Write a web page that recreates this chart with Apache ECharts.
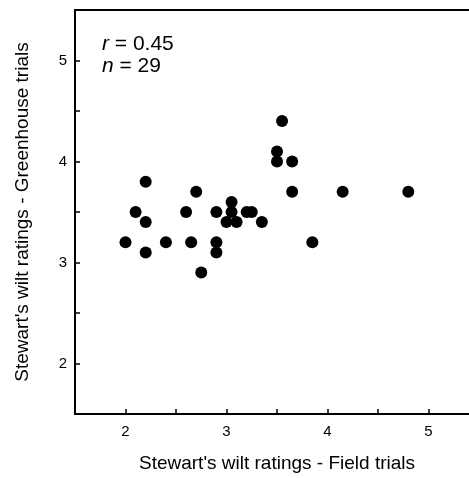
<!doctype html>
<html>
	<head>
		<meta charset="utf-8">
		<title></title>
		<script src="https://cdn.jsdelivr.net/npm/echarts@6/dist/echarts.min.js"></script>
		<style>
			html,body {
				margin: 0;
				width: 100%;
				height: 100%;
				background-color: #fff;
			}
			#container {
				width: 469px;
				height: 478px;
			}
		</style>
	</head>
	<body>
		<div id="container"></div>
		<script type="text/javascript">
			// field trial ratings (x) vs greenhouse ratings (y)
			var fieldRatings = [2.0, 2.1, 2.2, 2.2, 2.2, 2.4, 2.6, 2.65, 2.7, 2.75,
				2.9, 2.9, 2.9, 3.0, 3.05, 3.05, 3.1, 3.2, 3.25, 3.35,
				3.5, 3.5, 3.55, 3.65, 3.65, 3.85, 4.15, 4.8];
			var greenhouseRatings = [3.2, 3.5, 3.8, 3.4, 3.1, 3.2, 3.5, 3.2, 3.7, 2.9,
				3.5, 3.2, 3.1, 3.4, 3.6, 3.5, 3.4, 3.5, 3.5, 3.4,
				4.1, 4.0, 4.4, 4.0, 3.7, 3.2, 3.7, 3.7];
			var statsLines = [['r', ' = 0.45'], ['n', ' = 29']];
			var xTitle = "Stewart's wilt ratings - Field trials";
			var yTitle = "Stewart's wilt ratings - Greenhouse trials";

			var points = [];
			for (var i = 0; i < fieldRatings.length; i++) {
				points.push([fieldRatings[i], greenhouseRatings[i]]);
			}

			var font = 'Liberation Sans, Arial, sans-serif';
			var myChart = echarts.init(document.getElementById('container'));

			function intOnly(v) {
				return Math.abs(v - Math.round(v)) < 1e-6 ? String(Math.round(v)) : '';
			}

			var axisCommon = {
				type: 'value',
				min: 1.5,
				max: 5.5,
				interval: 0.5,
				nameLocation: 'middle',
				nameTextStyle: { color: '#000', fontSize: 19, fontFamily: font },
				splitLine: { show: false },
				axisLine: { lineStyle: { color: '#000', width: 2 } },
				axisTick: { inside: true, length: 5, lineStyle: { color: '#000', width: 1.5 } },
				axisLabel: { color: '#000', fontSize: 15, fontFamily: font, formatter: intOnly,
					showMinLabel: false, showMaxLabel: false }
			};

			var option = {
				animation: false,
				grid: {
					left: 75,
					top: 10,
					width: 404,
					height: 404,
					outerBoundsMode: 'none',
					show: true,
					borderColor: '#000',
					borderWidth: 2
				},
				xAxis: echarts.util.merge({
					name: xTitle,
					nameGap: 40,
					axisLabel: { margin: 10 }
				}, axisCommon),
				yAxis: echarts.util.merge({
					name: yTitle,
					nameGap: 43,
					axisLabel: { margin: 8 }
				}, axisCommon),
				graphic: statsLines.map(function (ln, k) {
					return {
						type: 'text',
						left: 102,
						top: 34 + k * 22,
						style: {
							text: '{i|' + ln[0] + '}{t|' + ln[1] + '}',
							rich: {
								i: { fontStyle: 'italic', fontSize: 21, fontFamily: font, fill: '#000', color: '#000' },
								t: { fontSize: 21, fontFamily: font, fill: '#000', color: '#000' }
							}
						}
					};
				}),
				series: [{
					type: 'scatter',
					symbol: 'circle',
					symbolSize: 12,
					itemStyle: { color: '#000', opacity: 1 },
					data: points
				}]
			};

			myChart.setOption(option);
		</script>
	</body>
</html>
